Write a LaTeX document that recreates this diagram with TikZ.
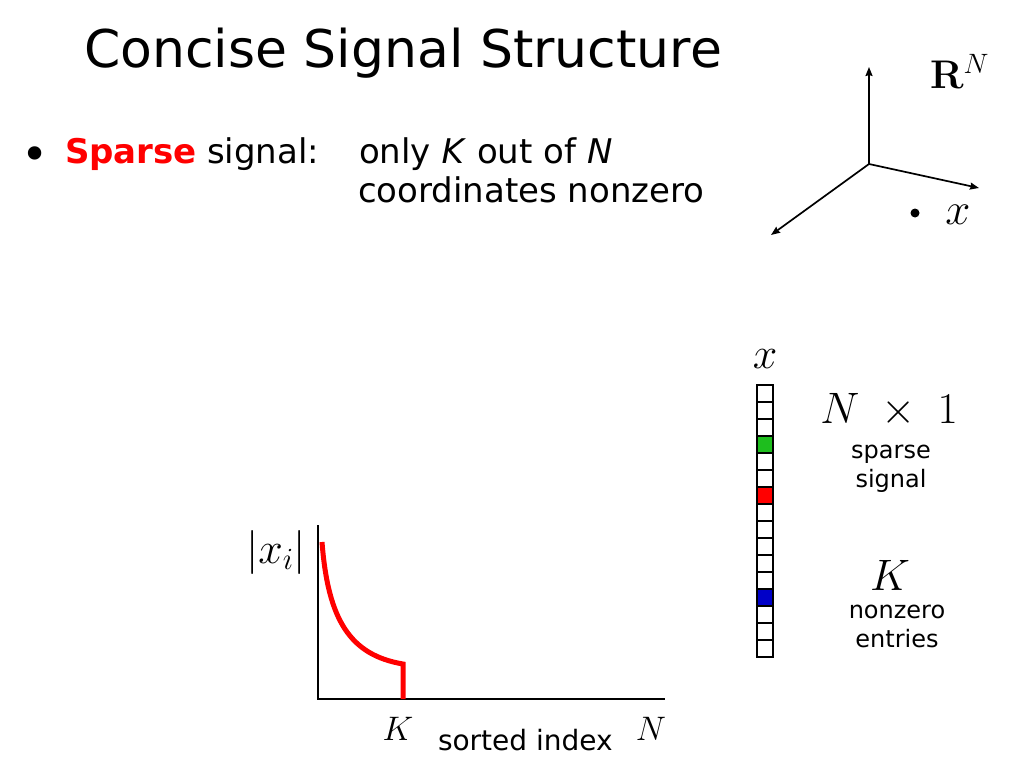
\RequirePackage{fix-cm}
\documentclass[tikz,border=0pt]{standalone}
\usepackage[no-math]{fontspec}
\newfontfamily\dv{DejaVu Sans}
\usetikzlibrary{arrows.meta}
\newcommand\fsz[2]{\fontsize{#1}{#2}\selectfont}
\definecolor{sgreen}{RGB}{30,190,30}
\definecolor{sblue}{RGB}{0,0,200}
\definecolor{sred}{RGB}{255,0,0}
\begin{document}
\begin{tikzpicture}[x=1pt,y=-1pt,
  txt/.style={inner sep=0pt, outer sep=0pt},
  body/.style={txt, anchor=base west, font=\dv\fsz{34}{40}},
  small/.style={txt, anchor=base, font=\dv\fsz{24}{29}},
  bigmath/.style={txt, font=\fsz{44}{50}},
  axarrow/.style={line width=1.7pt, -{Stealth[length=9pt,width=7pt,inset=1pt]}},
  cell/.style={draw, line width=1.4pt, minimum width=16pt, minimum height=17pt, inner sep=0pt},
  axisline/.style={line width=1.1pt},
  curve/.style={line width=5pt, draw=sred}]
\useasboundingbox[fill=white] (0,0) rectangle (1024,768);

% title
\node[txt, anchor=base west, font=\dv\fsz{52}{60}] (title) at (84,67) {Concise Signal Structure};

% bullet text
\node[txt, anchor=base west, font=\dv\fsz{46}{50}] (bul) at (21,170) {•};
\node[body, text=sred, font=\dv\bfseries\fsz{34}{40}] (sparse) at (65,163) {Sparse};
\node[body] (signal) at (207,163) {signal:};
\node[body] (only) at (359,163) {only \textit{K} out of \textit{N}};
\node[body] (coord) at (358,202) {coordinates nonzero};

% R^N axes
\coordinate (o) at (869,164);
\coordinate (up) at (869,67);
\coordinate (rt) at (979,188);
\coordinate (dl) at (771,235);
\draw[axarrow] (o) -- (up);
\draw[axarrow] (o) -- (rt);
\draw[axarrow] (o) -- (dl);
\node[txt, anchor=base west, font=\fsz{40}{46}] (rn) at (930,88) {$\mathbf{R}^N$};
\node[circle, fill=black, inner sep=0pt, minimum size=9pt] (dot) at (915,213) {};
\node[txt, font=\fsz{45}{50}] (xpt) at (958,215) {$x$};

% column vector
\foreach \i/\c in {1/white,2/white,3/white,4/sgreen,5/white,6/white,7/sred,8/white,9/white,10/white,11/white,12/white,13/sblue,14/white,15/white,16/white}
  \node[cell, fill=\c] (c\i) at (765,{376.5+17*\i}) {};
\node[bigmath, anchor=base] (xlab) at (765,368) {$x$};
\node[bigmath, anchor=base] (dim) at (889,423) {$N\;\times\;1$};
\node[small] (sp1) at (891,458) {sparse};
\node[small] (sp2) at (891,487) {signal};
\node[bigmath, anchor=base] (kl) at (890,590) {$K$};
\node[small] (nz1) at (897,618) {nonzero};
\node[small] (nz2) at (897,647) {entries};

% plot
\coordinate (O) at (318,699);
\coordinate (ytop) at (318,525);
\coordinate (xend) at (665,699);
\draw[axisline] (ytop) -- (O) -- (xend);
\coordinate (cs) at (322,542);
\coordinate (ca) at (328,620);
\coordinate (cb) at (350,655);
\coordinate (ck) at (403,664);
\coordinate (cz) at (403,699);
\draw[curve] (cs) .. controls (ca) and (cb) .. (ck) -- (cz);
\node[txt, anchor=base, font=\fsz{44}{50}] (xi) at (276,563) {$|x_i|$};
\node[txt, anchor=base, font=\fsz{34}{40}] (kax) at (398,740) {$K$};
\node[txt, anchor=base, font=\fsz{34}{40}] (nax) at (651,740) {$N$};
\node[txt, anchor=base west, font=\dv\fsz{28}{34}] (sorted) at (438,750) {sorted index};
\end{tikzpicture}
\end{document}
